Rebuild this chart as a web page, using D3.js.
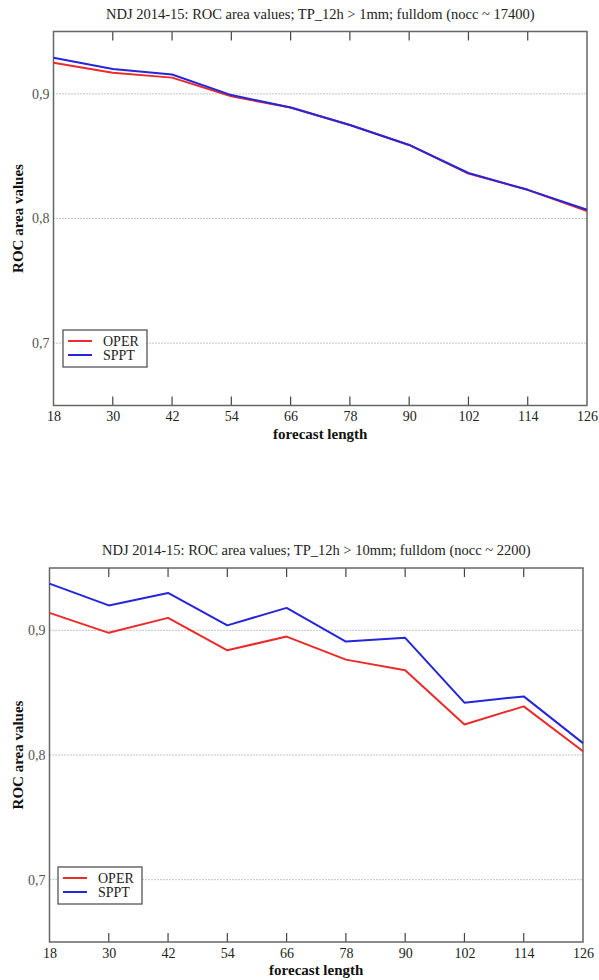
<!DOCTYPE html>
<html>
<head>
<meta charset="utf-8">
<script src="https://cdn.jsdelivr.net/npm/d3@7"></script>
<style>
  html, body { margin: 0; padding: 0; background: #fff; }
  svg { display: block; }
  text { font-family: "Liberation Serif", "Times New Roman", serif; }
</style>
</head>
<body>
<svg id="chart" width="599" height="980"></svg>
<script>
// ---- data ----
const forecastLengths = [18, 30, 42, 54, 66, 78, 90, 102, 114, 126];
const yTickValues = [0.7, 0.8, 0.9];
const yTickLabels = ["0,7", "0,8", "0,9"];
const seriesNames = ["OPER", "SPPT"];
const seriesColors = ["#ec2a2a", "#2626d8"];

const titles = [
  "NDJ 2014-15: ROC area values; TP_12h > 1mm; fulldom (nocc ~ 17400)",
  "NDJ 2014-15: ROC area values; TP_12h > 10mm; fulldom (nocc ~ 2200)"
];
const xAxisTitle = "forecast length";
const yAxisTitle = "ROC area values";

// chart 1 (> 1mm)
const oper1mm = [0.925, 0.917, 0.913, 0.898, 0.889, 0.875, 0.859, 0.836, 0.823, 0.806];
const sppt1mm = [0.929, 0.920, 0.9155, 0.899, 0.889, 0.875, 0.859, 0.8365, 0.823, 0.807];
// chart 2 (> 10mm)
const oper10mm = [0.914, 0.898, 0.910, 0.884, 0.895, 0.8765, 0.868, 0.8245, 0.839, 0.803];
const sppt10mm = [0.9375, 0.920, 0.930, 0.904, 0.918, 0.891, 0.894, 0.842, 0.847, 0.8095];

const svg = d3.select("#chart");

function drawChart(cfg) {
  const { left, right, top, bottom, title, oper, sppt, legendX, legendY } = cfg;
  const g = svg.append("g");
  const x = d3.scaleLinear().domain([18, 126]).range([left, right]);
  const y = d3.scaleLinear().domain([0.65, 0.95]).range([bottom, top]);

  // title
  g.append("text")
    .attr("x", (left + right) / 2).attr("y", top - 13)
    .attr("text-anchor", "middle")
    .attr("font-size", 14.5).attr("fill", "#222")
    .text(title);

  // gridlines
  g.selectAll(".grid").data(yTickValues).enter().append("line")
    .attr("x1", left).attr("x2", right)
    .attr("y1", d => y(d)).attr("y2", d => y(d))
    .attr("stroke", "#8a8a8a").attr("stroke-width", 1)
    .attr("stroke-dasharray", "1,2");

  // y tick labels
  g.selectAll(".ylab").data(yTickValues).enter().append("text")
    .attr("x", left - 4).attr("y", d => y(d))
    .attr("dy", "0.35em").attr("text-anchor", "end")
    .attr("font-size", 14).attr("fill", "#555")
    .text((d, i) => yTickLabels[i]);

  // bottom axis (labels + inward ticks)
  const xb = d3.axisBottom(x).tickValues(forecastLengths).tickSize(0).tickPadding(6)
    .tickFormat(d3.format("d"));
  const axB = g.append("g").attr("transform", `translate(0,${bottom})`).call(xb);
  axB.select(".domain").remove();
  axB.selectAll("text").attr("font-size", 14).attr("fill", "#222")
    .attr("font-family", "'Liberation Serif', 'Times New Roman', serif");

  const inner = forecastLengths.slice(1, -1);
  g.selectAll(".tickb").data(inner).enter().append("line")
    .attr("x1", d => x(d)).attr("x2", d => x(d))
    .attr("y1", bottom).attr("y2", bottom - 9)
    .attr("stroke", "#444").attr("stroke-width", 1.2);
  g.selectAll(".tickt").data(inner).enter().append("line")
    .attr("x1", d => x(d)).attr("x2", d => x(d))
    .attr("y1", top).attr("y2", top + 9)
    .attr("stroke", "#444").attr("stroke-width", 1.2);

  // frame
  g.append("rect")
    .attr("x", left).attr("y", top)
    .attr("width", right - left).attr("height", bottom - top)
    .attr("fill", "none").attr("stroke", "#666").attr("stroke-width", 1.5);

  // axis titles
  g.append("text")
    .attr("x", (left + right) / 2).attr("y", bottom + 33)
    .attr("text-anchor", "middle").attr("font-size", 15)
    .attr("font-weight", "bold").attr("fill", "#111")
    .text(xAxisTitle);
  g.append("text")
    .attr("transform", `translate(23,${(top + bottom) / 2}) rotate(-90)`)
    .attr("text-anchor", "middle").attr("font-size", 15)
    .attr("font-weight", "bold").attr("fill", "#111")
    .text(yAxisTitle);

  // lines
  const line = d3.line().x((d, i) => x(forecastLengths[i])).y(d => y(d));
  [oper, sppt].forEach((vals, k) => {
    g.append("path").datum(vals)
      .attr("d", line).attr("fill", "none")
      .attr("stroke", seriesColors[k]).attr("stroke-width", 2)
      .attr("stroke-linejoin", "round");
  });

  // legend
  const lg = g.append("g").attr("transform", `translate(${legendX},${legendY})`);
  lg.append("rect").attr("x", 0).attr("y", 0).attr("width", 84).attr("height", 37)
    .attr("fill", "#fff").attr("stroke", "#555").attr("stroke-width", 1.3);
  seriesNames.forEach((name, k) => {
    const yy = 11 + k * 14;
    lg.append("line").attr("x1", 5).attr("x2", 29).attr("y1", yy).attr("y2", yy)
      .attr("stroke", seriesColors[k]).attr("stroke-width", 2);
    lg.append("text").attr("x", 40).attr("y", yy).attr("dy", "0.35em")
      .attr("font-size", 14).attr("fill", "#222").text(name);
  });
}

drawChart({ left: 53.5, right: 587, top: 31.5, bottom: 405.5, title: titles[0],
  oper: oper1mm, sppt: sppt1mm, legendX: 63, legendY: 330 });
drawChart({ left: 49.5, right: 583, top: 568, bottom: 942, title: titles[1],
  oper: oper10mm, sppt: sppt10mm, legendX: 58, legendY: 867 });
</script>
</body>
</html>
